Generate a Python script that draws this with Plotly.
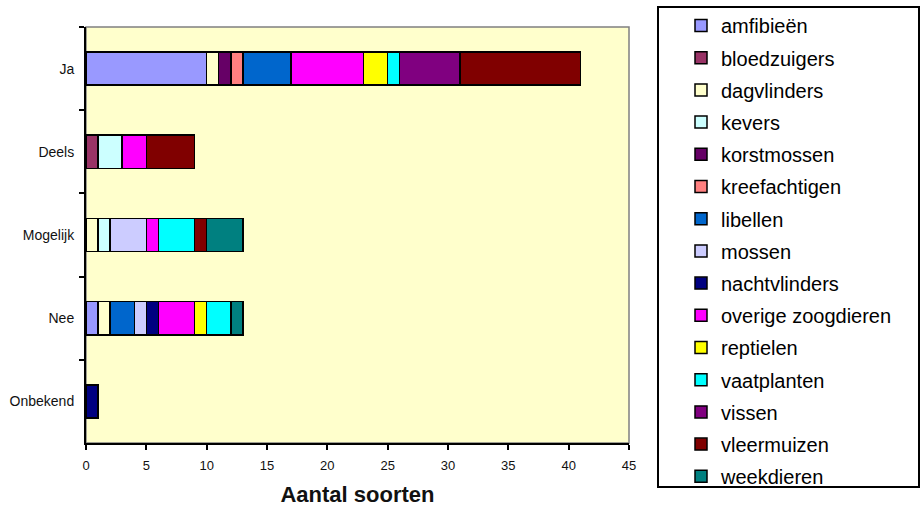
import plotly.graph_objects as go

# Categories on the vertical axis (top to bottom)
categories = ["Ja", "Deels", "Mogelijk", "Nee", "Onbekend"]

# Species groups in stacking / legend order
groups = [
    "amfibieën", "bloedzuigers", "dagvlinders", "kevers", "korstmossen",
    "kreefachtigen", "libellen", "mossen", "nachtvlinders",
    "overige zoogdieren", "reptielen", "vaatplanten", "vissen",
    "vleermuizen", "weekdieren",
]

# Number of species per group for each category (Ja, Deels, Mogelijk, Nee, Onbekend)
amfibieen = [10, 0, 0, 1, 0]
bloedzuigers = [0, 1, 0, 0, 0]
dagvlinders = [1, 0, 1, 1, 0]
kevers = [0, 2, 1, 0, 0]
korstmossen = [1, 0, 0, 0, 0]
kreefachtigen = [1, 0, 0, 0, 0]
libellen = [4, 0, 0, 2, 0]
mossen = [0, 0, 3, 1, 0]
nachtvlinders = [0, 0, 0, 1, 1]
overige_zoogdieren = [6, 2, 1, 3, 0]
reptielen = [2, 0, 0, 1, 0]
vaatplanten = [1, 0, 3, 2, 0]
vissen = [5, 0, 0, 0, 0]
vleermuizen = [10, 4, 1, 0, 0]
weekdieren = [0, 0, 3, 1, 0]

series = [
    amfibieen, bloedzuigers, dagvlinders, kevers, korstmossen,
    kreefachtigen, libellen, mossen, nachtvlinders, overige_zoogdieren,
    reptielen, vaatplanten, vissen, vleermuizen, weekdieren,
]

colors = [
    "#9999FF", "#993366", "#FFFFCC", "#CCFFFF", "#660066",
    "#FF8080", "#0066CC", "#CCCCFF", "#000080", "#FF00FF",
    "#FFFF00", "#00FFFF", "#800080", "#800000", "#008080",
]

W, H = 923, 508
L, R, T, B = 86, 294, 27, 65
pw, ph = W - L - R, H - T - B


def px_x(p):
    return (p - L) / pw


def px_y(p):
    return (H - B - p) / ph


FONT = "Arial, Liberation Sans, sans-serif"

fig = go.Figure()
for name, vals, col in zip(groups, series, colors):
    fig.add_trace(go.Bar(
        y=categories, x=vals, name=name, orientation="h",
        width=0.4,
        marker=dict(color=col, line=dict(color="black", width=1.5)),
        legendgroup=name,
    ))

fig.update_layout(
    width=W, height=H,
    margin=dict(l=L, r=R, t=T, b=B, autoexpand=False),
    barmode="stack",
    paper_bgcolor="white",
    plot_bgcolor="#FFFFCC",
    font=dict(family=FONT, color="#000000"),
    xaxis=dict(
        range=[0, 45], dtick=5, showgrid=False, zeroline=False,
        showline=True, linecolor="black", linewidth=2,
        ticks="outside", ticklen=5, tickwidth=2, tickcolor="black",
        ticklabelstandoff=4,
        tickfont=dict(size=13, family=FONT, color="#111111"),
        title=dict(text="<b>Aantal soorten</b>", font=dict(size=22, family=FONT, color="#111111"), standoff=15),
    ),
    yaxis=dict(
        categoryorder="array", categoryarray=categories, autorange="reversed",
        showgrid=False, zeroline=False,
        showline=True, linecolor="black", linewidth=2,
        ticks="outside", ticklen=5, tickwidth=2, tickcolor="black",
        tickson="boundaries",
        tickfont=dict(size=14, family=FONT, color="#111111"),
        ticklabelstandoff=7,
    ),
    legend=dict(
        x=px_x(681), xanchor="left",
        y=px_y(6), yanchor="top",
        maxheight=1,
        traceorder="grouped", tracegroupgap=3.2,
        bgcolor="rgba(0,0,0,0)", borderwidth=0,
        font=dict(size=20, family=FONT, color="#000000"),
    ),
    shapes=[
        # plot area frame (top and right edges in grey)
        dict(type="rect", xref="paper", yref="paper", x0=0, x1=1, y0=0, y1=1,
             line=dict(color="#808080", width=1.5), layer="below"),
        # legend box
        dict(type="rect", xref="paper", yref="paper",
             x0=px_x(658), x1=px_x(919), y0=px_y(487), y1=px_y(7),
             line=dict(color="black", width=2)),
    ],
)

fig.write_html("out.html")
